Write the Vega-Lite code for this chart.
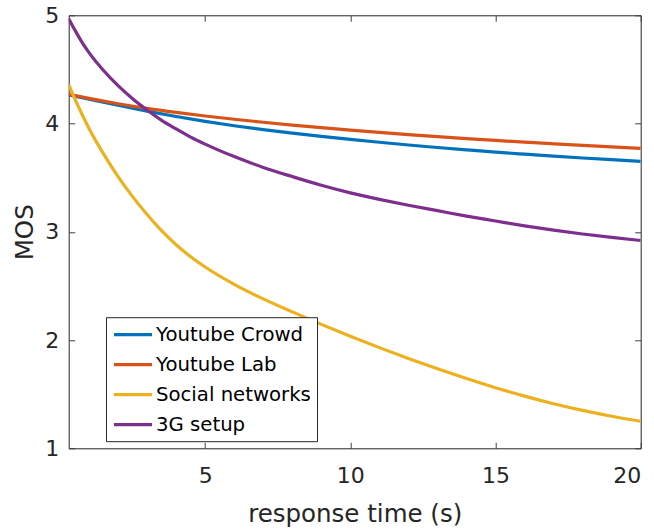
{
  "$schema": "https://vega.github.io/schema/vega-lite/v6.json",
  "width": 572,
  "height": 433,
  "autosize": {"type": "none"},
  "padding": {"left": 68.7, "top": 15.3, "right": 13.3, "bottom": 80.7},
  "background": "white",
  "config": {
    "font": "DejaVu Sans",
    "view": {"stroke": "#262626", "strokeWidth": 1},
    "axis": {
      "domain": false,
      "grid": false,
      "tickColor": "#262626",
      "tickWidth": 1,
      "labelFont": "DejaVu Sans",
      "labelFontSize": 22,
      "labelColor": "#262626",
      "titleFont": "DejaVu Sans",
      "titleFontSize": 24.5,
      "titleFontWeight": "normal",
      "titleColor": "#262626"
    }
  },
  "data": {
    "values": [
      {"series": "Youtube Crowd", "t": 0.3, "mos": 4.265},
      {"series": "Youtube Crowd", "t": 1, "mos": 4.226},
      {"series": "Youtube Crowd", "t": 2, "mos": 4.169},
      {"series": "Youtube Crowd", "t": 3, "mos": 4.115},
      {"series": "Youtube Crowd", "t": 4, "mos": 4.065},
      {"series": "Youtube Crowd", "t": 5, "mos": 4.02},
      {"series": "Youtube Crowd", "t": 6, "mos": 3.98},
      {"series": "Youtube Crowd", "t": 7, "mos": 3.944},
      {"series": "Youtube Crowd", "t": 8, "mos": 3.911},
      {"series": "Youtube Crowd", "t": 9, "mos": 3.881},
      {"series": "Youtube Crowd", "t": 10, "mos": 3.853},
      {"series": "Youtube Crowd", "t": 11, "mos": 3.827},
      {"series": "Youtube Crowd", "t": 12, "mos": 3.802},
      {"series": "Youtube Crowd", "t": 13, "mos": 3.779},
      {"series": "Youtube Crowd", "t": 14, "mos": 3.757},
      {"series": "Youtube Crowd", "t": 15, "mos": 3.736},
      {"series": "Youtube Crowd", "t": 16, "mos": 3.717},
      {"series": "Youtube Crowd", "t": 17, "mos": 3.699},
      {"series": "Youtube Crowd", "t": 18, "mos": 3.682},
      {"series": "Youtube Crowd", "t": 19, "mos": 3.666},
      {"series": "Youtube Crowd", "t": 20, "mos": 3.651},
      {"series": "Youtube Lab", "t": 0.3, "mos": 4.27},
      {"series": "Youtube Lab", "t": 1, "mos": 4.232},
      {"series": "Youtube Lab", "t": 2, "mos": 4.183},
      {"series": "Youtube Lab", "t": 3, "mos": 4.14},
      {"series": "Youtube Lab", "t": 4, "mos": 4.103},
      {"series": "Youtube Lab", "t": 5, "mos": 4.07},
      {"series": "Youtube Lab", "t": 6, "mos": 4.04},
      {"series": "Youtube Lab", "t": 7, "mos": 4.012},
      {"series": "Youtube Lab", "t": 8, "mos": 3.986},
      {"series": "Youtube Lab", "t": 9, "mos": 3.962},
      {"series": "Youtube Lab", "t": 10, "mos": 3.939},
      {"series": "Youtube Lab", "t": 11, "mos": 3.918},
      {"series": "Youtube Lab", "t": 12, "mos": 3.898},
      {"series": "Youtube Lab", "t": 13, "mos": 3.879},
      {"series": "Youtube Lab", "t": 14, "mos": 3.861},
      {"series": "Youtube Lab", "t": 15, "mos": 3.844},
      {"series": "Youtube Lab", "t": 16, "mos": 3.828},
      {"series": "Youtube Lab", "t": 17, "mos": 3.813},
      {"series": "Youtube Lab", "t": 18, "mos": 3.798},
      {"series": "Youtube Lab", "t": 19, "mos": 3.784},
      {"series": "Youtube Lab", "t": 20, "mos": 3.77},
      {"series": "Social networks", "t": 0.3, "mos": 4.36},
      {"series": "Social networks", "t": 0.5, "mos": 4.235},
      {"series": "Social networks", "t": 0.75, "mos": 4.09},
      {"series": "Social networks", "t": 1, "mos": 3.955},
      {"series": "Social networks", "t": 1.5, "mos": 3.72},
      {"series": "Social networks", "t": 2, "mos": 3.51},
      {"series": "Social networks", "t": 2.5, "mos": 3.325},
      {"series": "Social networks", "t": 3, "mos": 3.16},
      {"series": "Social networks", "t": 3.5, "mos": 3.01},
      {"series": "Social networks", "t": 4, "mos": 2.88},
      {"series": "Social networks", "t": 4.5, "mos": 2.77},
      {"series": "Social networks", "t": 5, "mos": 2.675},
      {"series": "Social networks", "t": 6, "mos": 2.515},
      {"series": "Social networks", "t": 7, "mos": 2.38},
      {"series": "Social networks", "t": 8, "mos": 2.26},
      {"series": "Social networks", "t": 9, "mos": 2.145},
      {"series": "Social networks", "t": 10, "mos": 2.035},
      {"series": "Social networks", "t": 11, "mos": 1.93},
      {"series": "Social networks", "t": 12, "mos": 1.83},
      {"series": "Social networks", "t": 13, "mos": 1.735},
      {"series": "Social networks", "t": 14, "mos": 1.645},
      {"series": "Social networks", "t": 15, "mos": 1.56},
      {"series": "Social networks", "t": 16, "mos": 1.482},
      {"series": "Social networks", "t": 17, "mos": 1.412},
      {"series": "Social networks", "t": 18, "mos": 1.35},
      {"series": "Social networks", "t": 19, "mos": 1.296},
      {"series": "Social networks", "t": 20, "mos": 1.25},
      {"series": "3G setup", "t": 0.3, "mos": 4.97},
      {"series": "3G setup", "t": 0.5, "mos": 4.87},
      {"series": "3G setup", "t": 0.75, "mos": 4.755},
      {"series": "3G setup", "t": 1, "mos": 4.655},
      {"series": "3G setup", "t": 1.5, "mos": 4.49},
      {"series": "3G setup", "t": 2, "mos": 4.35},
      {"series": "3G setup", "t": 2.5, "mos": 4.23},
      {"series": "3G setup", "t": 3, "mos": 4.125},
      {"series": "3G setup", "t": 3.5, "mos": 4.03},
      {"series": "3G setup", "t": 4, "mos": 3.95},
      {"series": "3G setup", "t": 4.5, "mos": 3.875},
      {"series": "3G setup", "t": 5, "mos": 3.81},
      {"series": "3G setup", "t": 5.5, "mos": 3.75},
      {"series": "3G setup", "t": 6, "mos": 3.695},
      {"series": "3G setup", "t": 7, "mos": 3.595},
      {"series": "3G setup", "t": 8, "mos": 3.51},
      {"series": "3G setup", "t": 9, "mos": 3.43},
      {"series": "3G setup", "t": 10, "mos": 3.36},
      {"series": "3G setup", "t": 11, "mos": 3.3},
      {"series": "3G setup", "t": 12, "mos": 3.245},
      {"series": "3G setup", "t": 13, "mos": 3.195},
      {"series": "3G setup", "t": 14, "mos": 3.145},
      {"series": "3G setup", "t": 15, "mos": 3.1},
      {"series": "3G setup", "t": 16, "mos": 3.055},
      {"series": "3G setup", "t": 17, "mos": 3.015},
      {"series": "3G setup", "t": 18, "mos": 2.98},
      {"series": "3G setup", "t": 19, "mos": 2.948},
      {"series": "3G setup", "t": 20, "mos": 2.92}
    ]
  },
  "layer": [
    {
      "mark": {"type": "line", "strokeWidth": 3.2, "interpolate": "monotone", "clip": true},
      "encoding": {
        "x": {
          "field": "t", "type": "quantitative",
          "scale": {"domain": [0.3, 20], "nice": false, "zero": false},
          "axis": {"orient": "bottom", "values": [5, 10, 15, 20], "title": "response time (s)", "ticks": false, "tickSize": 0, "labelPadding": 17.5, "titlePadding": 15.5}
        },
        "y": {
          "field": "mos", "type": "quantitative",
          "scale": {"domain": [1, 5], "nice": false, "zero": false},
          "axis": {"orient": "left", "values": [1, 2, 3, 4, 5], "title": "MOS", "ticks": false, "tickSize": 0, "labelPadding": 10, "titlePadding": 7.5}
        },
        "color": {
          "field": "series", "type": "nominal",
          "scale": {
            "domain": ["Youtube Crowd", "Youtube Lab", "Social networks", "3G setup"],
            "range": ["#0072BD", "#D95319", "#EDB120", "#7E2F8E"]
          },
          "legend": {
            "orient": "none",
            "legendX": 37.3,
            "legendY": 301.9,
            "title": null,
            "fillColor": "white",
            "strokeColor": "#262626",
            "padding": 6,
            "symbolType": "M-2,0H2",
            "symbolSize": 361,
            "symbolOffset": 9.5,
            "symbolStrokeWidth": 3.2,
            "labelFont": "DejaVu Sans",
            "labelFontSize": 19.7,
            "labelColor": "#000000",
            "labelOffset": 11.5,
            "rowPadding": 8
          }
        }
      }
    },
    {
      "mark": {"type": "line", "opacity": 0},
      "encoding": {
        "x": {
          "field": "t", "type": "quantitative",
          "scale": {"domain": [0.3, 20], "nice": false, "zero": false},
          "axis": {"orient": "top", "offset": -433, "values": [5, 10, 15, 20], "labels": false, "title": null, "ticks": true, "tickSize": 6, "tickColor": "#404040", "tickWidth": 1}
        },
        "y": {
          "field": "mos", "type": "quantitative",
          "scale": {"domain": [1, 5], "nice": false, "zero": false},
          "axis": {"orient": "right", "offset": -572, "values": [1, 2, 3, 4, 5], "labels": false, "title": null, "ticks": true, "tickSize": 6, "tickColor": "#404040", "tickWidth": 1}
        },
        "detail": {"field": "series", "type": "nominal"}
      }
    },
    {
      "mark": {"type": "line", "opacity": 0},
      "encoding": {
        "x": {
          "field": "t", "type": "quantitative",
          "scale": {"domain": [0.3, 20], "nice": false, "zero": false},
          "axis": {"orient": "bottom", "offset": -433, "values": [5, 10, 15, 20], "labels": false, "title": null, "ticks": true, "tickSize": 6, "tickColor": "#404040", "tickWidth": 1}
        },
        "y": {
          "field": "mos", "type": "quantitative",
          "scale": {"domain": [1, 5], "nice": false, "zero": false},
          "axis": {"orient": "left", "offset": -572, "values": [1, 2, 3, 4, 5], "labels": false, "title": null, "ticks": true, "tickSize": 6, "tickColor": "#404040", "tickWidth": 1}
        },
        "detail": {"field": "series", "type": "nominal"}
      }
    }
  ],
  "resolve": {"axis": {"x": "independent", "y": "independent"}}
}
